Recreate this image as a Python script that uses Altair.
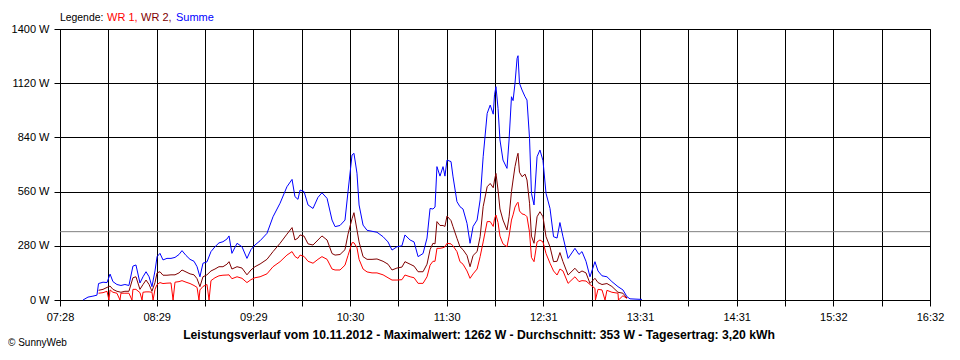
import altair as alt
import pandas as pd

# time in minutes after midnight
T = [462.4, 465.5, 468.6, 471.1, 472.1, 474.9, 477.4, 479.3, 481.1, 483.6, 486.1, 488.6, 491.1,
     493.6, 495.5, 498.0, 499.9, 501.8, 503.7, 505.5, 507.4, 508.7, 510.5, 512.4, 514.9, 517.4,
     519.9, 522.4, 524.3, 526.8, 529.3, 531.8, 533.7, 535.5, 537.4, 539.9, 542.4, 544.9, 547.4,
     549.9, 552.4, 553.7, 555.5, 558.7, 561.8, 564.9, 567.4, 569.9, 573.1, 577.4, 581.2, 585.6,
     589.9, 593.1, 594.9, 596.8, 598.1, 600.6, 603.1, 606.2, 609.3, 611.8, 615.0, 618.1, 620.0,
     623.1, 626.2, 628.1, 630.6, 631.8, 633.7, 635.0, 637.5, 640.0, 643.1, 646.2, 650.0, 653.1,
     655.6, 658.7, 661.8, 663.7, 666.9, 669.4, 671.9, 675.0, 677.5, 679.4, 681.2, 682.5, 683.7,
     685.6, 687.5, 688.7, 690.0, 692.5, 693.7, 696.2, 698.1, 700.0, 702.5, 704.4, 706.3, 708.8,
     710.7, 712.6, 715.1, 717.0, 718.9, 719.7, 720.6, 721.9, 723.1, 725.0, 727.5, 728.8, 730.3,
     731.3, 732.5, 733.8, 734.4, 735.3, 736.9, 738.8, 740.0, 741.6, 742.8, 744.4, 746.3, 748.1,
     750.0, 751.9, 754.4, 756.6, 758.8, 760.6, 762.5, 765.7, 770.0, 772.5, 774.4, 776.9, 779.4,
     782.5, 784.4, 786.9, 790.0, 793.1, 796.9, 800.0, 802.5, 804.4, 811.9]

SUMME = [0, 15, 20, 25, 85, 92, 90, 134, 95, 80, 75, 80, 75,
         175, 181, 88, 120, 146, 120, 69, 150, 224, 241, 207, 215, 215,
         220, 235, 255, 230, 210, 200, 172, 120, 190, 197, 250, 275, 295,
         301, 315, 331, 241, 293, 275, 215, 260, 284, 306, 344, 430, 500,
         585, 623, 534, 520, 568, 560, 491, 473, 530, 554, 525, 413, 379,
         385, 413, 560, 749, 758, 655, 491, 387, 360, 355, 350, 327, 300,
         258, 275, 280, 336, 310, 300, 224, 240, 320, 473, 470, 480, 689,
         640, 689, 640, 723, 715, 640, 508, 482, 470, 396, 293, 380, 413,
         517, 740, 964, 1007, 960, 1060, 1102, 990, 827, 723, 680, 827, 1050,
         1030, 1119, 1248, 1262, 1120, 1085, 1050, 1033, 835, 551, 491, 740, 775,
         720, 551, 473, 327, 320, 400, 327, 215, 267, 235, 250, 200, 120,
         198, 150, 125, 120, 95, 69, 52, 17, 6, 3]

WR2 = [None, None, None, None, 50, 55, 65, 72, 55, 45, 40, 45, 45,
       115, 120, 55, 80, 103, 80, 45, 90, 140, 146, 128, 128, 130,
       130, 140, 155, 145, 135, 130, 110, 69, 120, 130, 150, 160, 172,
       172, 185, 198, 160, 172, 165, 130, 155, 172, 186, 210, 250, 293,
       340, 374, 310, 320, 336, 330, 290, 284, 310, 331, 310, 240, 232,
       235, 260, 340, 420, 451, 362, 300, 224, 210, 210, 212, 200, 185,
       155, 165, 170, 198, 185, 175, 146, 146, 185, 260, 293, 290, 405,
       385, 385, 380, 434, 410, 380, 319, 275, 260, 230, 172, 230, 250,
       327, 482, 585, 602, 580, 620, 654, 568, 470, 413, 362, 430, 560,
       620, 689, 740, 758, 660, 637, 650, 620, 500, 330, 293, 430, 456,
       430, 327, 275, 198, 200, 245, 198, 129, 164, 140, 150, 140, 86,
       112, 90, 80, 85, 70, 40, 35, 10, None, None]

WR1 = [None, None, None, None, 35, 38, 45, 52, 40, 35, 35, 35, 35,
       55, 55, 38, 40, 42, 42, 40, 55, 80, 90, 85, 87, 88,
       92, 95, 100, 92, 85, 75, 65, 52, 70, 80, 100, 115, 125,
       128, 129, 130, 110, 120, 112, 90, 105, 115, 120, 135, 172, 198,
       232, 250, 225, 215, 232, 225, 200, 190, 210, 224, 210, 160, 155,
       155, 180, 230, 296, 296, 270, 210, 160, 145, 140, 140, 130, 115,
       103, 103, 105, 129, 120, 115, 86, 86, 120, 180, 200, 200, 267,
       267, 270, 275, 293, 290, 280, 250, 198, 185, 150, 112, 135, 160,
       224, 300, 405, 405, 380, 420, 439, 400, 330, 290, 275, 330, 413,
       440, 480, 500, 505, 460, 445, 440, 430, 350, 220, 198, 300, 310,
       300, 240, 190, 150, 129, 160, 150, 86, 120, 95, 100, 98, 80,
       60, 55, 52, 50, 40, 35, 22, 8, None, None]

# short dropouts of WR 1 to zero
WR1_DROPS = [478.6, 485.5, 493.0, 499.3, 506.2, 518.7, 534.9, 541.2, 782.8, 788.8, 797.2]

AVG = 353
SERIES = ["Summe", "WR 2", "WR 1"]
COLORS = ["#0000ff", "#800000", "#ff0000"]

Y_TICKS = [0, 280, 560, 840, 1120, 1400]
X_START, X_END = 448, 992
X_LABELS = ["07:28", "", "08:29", "", "09:29", "", "10:30", "", "11:30", "", "12:31", "",
            "13:31", "", "14:31", "", "15:32", "", "16:32"]

LEGEND_PARTS = [("Legende:", "#000000"), ("WR 1,", "#ff0000"), ("WR 2,", "#800000"), ("Summe", "#0000ff")]
FOOTER = "Leistungsverlauf vom 10.11.2012 - Maximalwert: 1262 W - Durchschnitt: 353 W - Tagesertrag: 3,20 kWh"
COPYRIGHT = "© SunnyWeb"

FONT = "Liberation Sans"

rows = []
for name, vals in (("Summe", SUMME), ("WR 2", WR2), ("WR 1", WR1)):
    for t, v in zip(T, vals):
        if v is not None:
            rows.append({"t": t, "w": v, "serie": name})
for t in WR1_DROPS:
    rows.append({"t": t, "w": 0, "serie": "WR 1"})
df = pd.DataFrame(rows).sort_values(["serie", "t"])

step = (X_END - X_START) / (len(X_LABELS) - 1)
x_vals = [X_START + k * step for k in range(len(X_LABELS))]
label_arr = "[" + ",".join("'" + s + "'" for s in X_LABELS) + "]"

x_enc = alt.X(
    "t:Q",
    scale=alt.Scale(domain=[X_START, X_END], nice=False, zero=False),
    axis=alt.Axis(values=x_vals, labelExpr=f"{label_arr}[round((datum.value-{X_START})/{step})]",
                  title=None, grid=True, gridColor="#000000", gridOpacity=1, tickSize=6,
                  tickColor="#000000", domainColor="#000000", labelPadding=5,
                  labelFontSize=11, labelColor="#000000", labelFont=FONT, labelFlush=False),
)
y_enc = alt.Y(
    "w:Q",
    scale=alt.Scale(domain=[0, 1400], nice=False),
    axis=alt.Axis(values=Y_TICKS, labelExpr="datum.value + ' W'", title=None, grid=True,
                  gridColor="#000000", gridOpacity=1, tickSize=6, tickColor="#000000",
                  domainColor="#000000", labelPadding=5, labelFontSize=11,
                  labelColor="#000000", labelFont=FONT),
)

lines = alt.Chart(df).mark_line(strokeWidth=1, interpolate="linear").encode(
    x=x_enc,
    y=y_enc,
    color=alt.Color("serie:N", scale=alt.Scale(domain=SERIES, range=COLORS), legend=None),
    detail="serie:N",
)

avg_rule = alt.Chart(pd.DataFrame({"avg": [AVG]})).mark_rule(color="#808080", strokeWidth=1).encode(
    y=alt.Y("avg:Q", scale=alt.Scale(domain=[0, 1400], nice=False))
)

one = pd.DataFrame({"a": [0]})
texts = []
legend_x = [0, 47, 81, 116]
legend_size = [10.4, 11, 11, 11]
for (txt, col), lx, fs in zip(LEGEND_PARTS, legend_x, legend_size):
    texts.append(alt.Chart(one).mark_text(align="left", baseline="alphabetic", fontSize=fs,
                                          font=FONT, color=col, text=txt)
                 .encode(x=alt.value(lx), y=alt.value(-8)))
texts.append(alt.Chart(one).mark_text(align="center", baseline="alphabetic", fontSize=12.2,
                                      fontWeight="bold", font=FONT, color="#000000", text=FOOTER)
             .encode(x=alt.value(419), y=alt.value(310)))
texts.append(alt.Chart(one).mark_text(align="left", baseline="alphabetic", fontSize=10,
                                      font=FONT, color="#000000", text=COPYRIGHT)
             .encode(x=alt.value(-52), y=alt.value(317)))

chart = alt.layer(avg_rule, lines, *texts).properties(
    width=870, height=271,
    padding={"left": 52, "top": 21, "right": 22, "bottom": 50},
    autosize=alt.AutoSizeParams(type="none"),
    background="#ffffff",
).configure_view(stroke="#000000", strokeWidth=1)

chart.save("out.html", embed_options={"renderer": "svg", "actions": False})
